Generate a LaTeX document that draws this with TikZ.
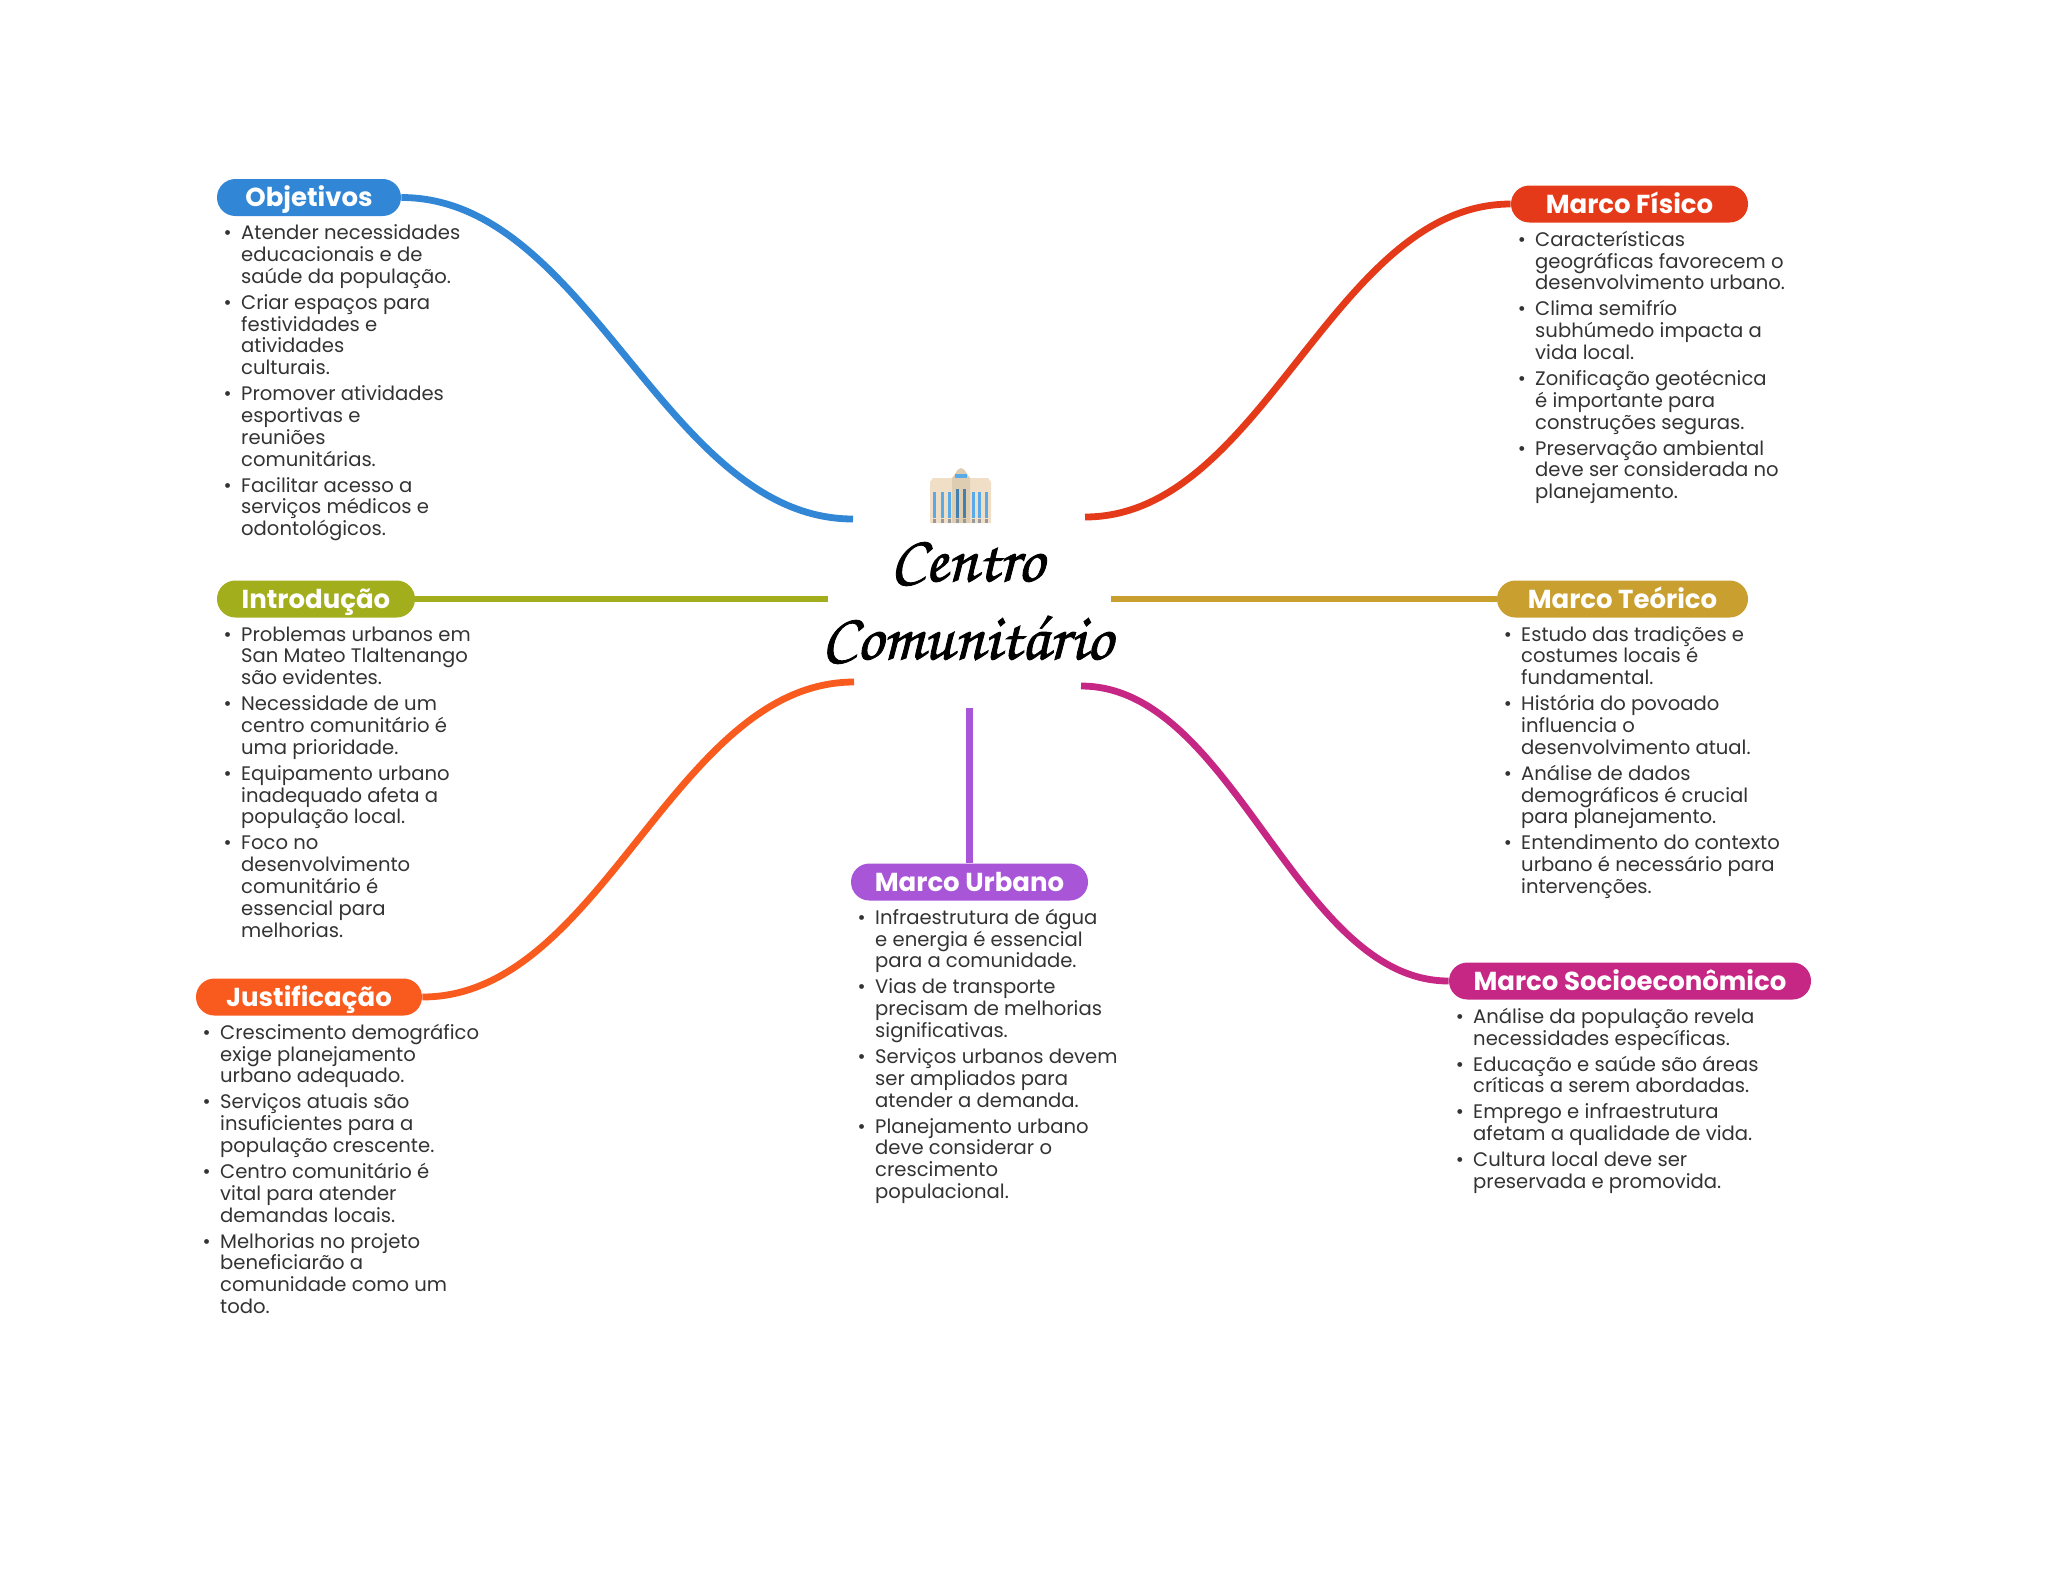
\documentclass[tikz,border=0pt]{standalone}
\usepackage{fontspec}
\setmainfont{Poppins}
\newfontfamily\titlefont[FakeBold=1.3]{TeX Gyre Chorus}
\usetikzlibrary{positioning}
\definecolor{cobj}{HTML}{3186D6}
\definecolor{cfis}{HTML}{E53A19}
\definecolor{cint}{HTML}{A3AE1C}
\definecolor{cteo}{HTML}{C9A02F}
\definecolor{cjus}{HTML}{F95A1D}
\definecolor{csoc}{HTML}{C62784}
\definecolor{curb}{HTML}{A855D8}
\definecolor{ctxt}{HTML}{333333}
\definecolor{cwall}{HTML}{F0DFC6}
\definecolor{ctower}{HTML}{DFCDB2}
\definecolor{cglass}{HTML}{5AAAE8}
\newcommand{\listfont}{\fontsize{9.8}{10.9}\selectfont\setlength{\lineskiplimit}{-20pt}}
\tikzset{
  headbox/.style={rounded corners=9.2pt,minimum height=18.5pt,inner sep=0pt,text=white,
    text height=10.1pt,text depth=0.9pt,font=\fontsize{13}{14}\selectfont\bfseries},
  listbox/.style={inner sep=0pt,align=left,text=ctxt,font=\listfont,
    below right=3.8pt and 12.1pt of #1.south west},
  branch/.style={line width=3.4pt},
}
\newcommand{\bul}{\leavevmode\llap{\textbullet\hspace{4.7pt}}\strut}
\newcommand{\gapp}{\\[2.1pt]}
\begin{document}
\begin{tikzpicture}[x=0.5pt,y=-0.5pt]
  \useasboundingbox (0,0) rectangle (2048,1569);
  % topics
  \node[headbox,fill=cobj,minimum width=92pt] (objetivos) at (309,197.5) {Objetivos};
  \node[headbox,fill=cfis,minimum width=118.5pt] (fisico) at (1629.5,204) {Marco Físico};
  \node[headbox,fill=cint,minimum width=99pt] (introducao) at (316,599) {Introdução};
  \node[headbox,fill=cteo,minimum width=125.5pt] (teorico) at (1622.5,599) {Marco Teórico};
  \node[headbox,fill=cjus,minimum width=113pt] (justificacao) at (309,997) {Justificação};
  \node[headbox,fill=csoc,minimum width=181pt] (socio) at (1630,981) {Marco Socioeconômico};
  \node[headbox,fill=curb,minimum width=118.5pt] (urbano) at (969.5,882) {Marco Urbano};
  % center
  \node[inner sep=0pt,font=\titlefont\fontsize{33}{39}\selectfont,align=center] (centro) at (967,603) {Centro\\Comunitário};
  \coordinate (eobj) at (853,519);
  \coordinate (efis) at (1085,517);
  \coordinate (eint) at (828,599);
  \coordinate (eteo) at (1111,599);
  \coordinate (ejus) at (854,682);
  \coordinate (esoc) at (1081,686);
  \coordinate (eurb) at (969.5,708);
  % branches
  \draw[branch,cobj] (objetivos.east) .. controls +(188,0) and +(-188,0) .. (eobj);
  \draw[branch,cfis] (fisico.west) .. controls +(-178,0) and +(178,0) .. (efis);
  \draw[branch,cint] (introducao.east) -- (eint);
  \draw[branch,cteo] (teorico.west) -- (eteo);
  \draw[branch,cjus] (justificacao.east) .. controls +(180,0) and +(-180,0) .. (ejus);
  \draw[branch,csoc] (socio.west) .. controls +(-153,0) and +(153,0) .. (esoc);
  \draw[branch,curb] (urbano.north) -- (eurb);
  % lists
  \node[listbox=objetivos] (lobj) {\bul Atender necessidades\\educacionais e de\\saúde da população.\gapp
    \bul Criar espaços para\\festividades e\\atividades\\culturais.\gapp
    \bul Promover atividades\\esportivas e\\reuniões\\comunitárias.\gapp
    \bul Facilitar acesso a\\serviços médicos e\\odontológicos.};
  \node[listbox=fisico] (lfis) {\bul Características\\geográficas favorecem o\\desenvolvimento urbano.\gapp
    \bul Clima semifrío\\subhúmedo impacta a\\vida local.\gapp
    \bul Zonificação geotécnica\\é importante para\\construções seguras.\gapp
    \bul Preservação ambiental\\deve ser considerada no\\planejamento.};
  \node[listbox=introducao] (lint) {\bul Problemas urbanos em\\San Mateo Tlaltenango\\são evidentes.\gapp
    \bul Necessidade de um\\centro comunitário é\\uma prioridade.\gapp
    \bul Equipamento urbano\\inadequado afeta a\\população local.\gapp
    \bul Foco no\\desenvolvimento\\comunitário é\\essencial para\\melhorias.};
  \node[listbox=teorico] (lteo) {\bul Estudo das tradições e\\costumes locais é\\fundamental.\gapp
    \bul História do povoado\\influencia o\\desenvolvimento atual.\gapp
    \bul Análise de dados\\demográficos é crucial\\para planejamento.\gapp
    \bul Entendimento do contexto\\urbano é necessário para\\intervenções.};
  \node[listbox=justificacao] (ljus) {\bul Crescimento demográfico\\exige planejamento\\urbano adequado.\gapp
    \bul Serviços atuais são\\insuficientes para a\\população crescente.\gapp
    \bul Centro comunitário é\\vital para atender\\demandas locais.\gapp
    \bul Melhorias no projeto\\beneficiarão a\\comunidade como um\\todo.};
  \node[listbox=urbano] (lurb) {\bul Infraestrutura de água\\e energia é essencial\\para a comunidade.\gapp
    \bul Vias de transporte\\precisam de melhorias\\significativas.\gapp
    \bul Serviços urbanos devem\\ser ampliados para\\atender a demanda.\gapp
    \bul Planejamento urbano\\deve considerar o\\crescimento\\populacional.};
  \node[listbox=socio] (lsoc) {\bul Análise da população revela\\necessidades específicas.\gapp
    \bul Educação e saúde são áreas\\críticas a serem abordadas.\gapp
    \bul Emprego e infraestrutura\\afetam a qualidade de vida.\gapp
    \bul Cultura local deve ser\\preservada e promovida.};
  % building icon
  \fill[cwall] (930,482) -- (933,478) -- (952,478) -- (952,523) -- (930,523) -- cycle;
  \fill[cwall] (991,482) -- (988,478) -- (970,478) -- (970,523) -- (991,523) -- cycle;
  \fill[ctower] (952,478) -- (955,474) .. controls (957,470) and (959,468) .. (961,468) .. controls (963,468) and (965,470) .. (967,474) -- (970,478) -- (970,523) -- (952,523) -- cycle;
  \fill[cglass] (955,474) rectangle (967,478);
  \foreach \xw in {933,941,948,972,978,985}{
    \fill[cglass] (\xw,492) rectangle +(3.2,26);
    \fill[gray!80] (\xw,519) rectangle +(3.2,4);
  }
  \foreach \xw in {956,963}{
    \fill[cglass!75!black] (\xw,489) rectangle +(3.2,29);
    \fill[gray!80] (\xw,519) rectangle +(3.2,4);
  }
\end{tikzpicture}
\end{document}
